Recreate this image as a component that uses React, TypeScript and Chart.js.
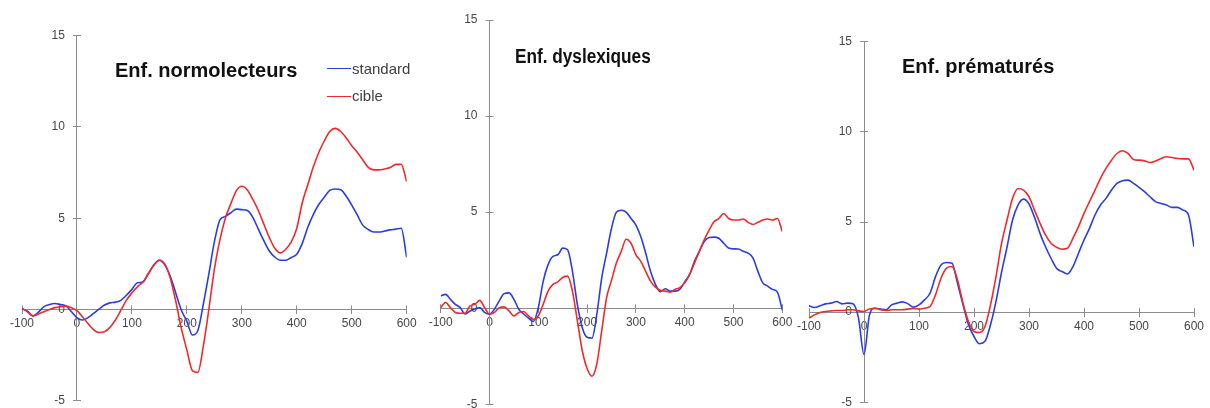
import React, { useEffect, useRef } from 'react';
import { Chart, registerables } from 'chart.js';

Chart.register(...registerables);

// Time axis (ms)
const TIMES = [
  -100, -90, -80, -70, -60, -50, -40, -30, -20, -10,
  0, 10, 20, 30, 40, 50, 60, 70, 80, 90,
  100, 110, 120, 130, 140, 150, 160, 170, 180, 190,
  200, 210, 220, 230, 240, 250, 260, 270, 280, 290,
  300, 310, 320, 330, 340, 350, 360, 370, 380, 390,
  400, 410, 420, 430, 440, 450, 460, 470, 480, 490,
  500, 510, 520, 530, 540, 550, 560, 570, 580, 590,
  600,
];

const X_TICKS = [-100, 0, 100, 200, 300, 400, 500, 600];
const Y_TICKS = [-5, 0, 5, 10, 15];

const SERIES_NAMES = ['standard', 'cible'];
const TITLES = ['Enf. normolecteurs', 'Enf. dyslexiques', 'Enf. prématurés'];

// Enf. normolecteurs
const NORMO_STANDARD = [
  0.05, -0.1, -0.35, -0.15, 0.15, 0.27, 0.33, 0.27, 0.2, -0.13,
  -0.45, -0.58, -0.45, -0.22, 0.02, 0.24, 0.36, 0.4, 0.5, 0.78,
  1.1, 1.46, 1.5, 1.97, 2.43, 2.7, 2.43, 1.8, 0.88, -0.04,
  -0.65, -1.4, -1.15, 0.3, 1.95, 3.7, 4.9, 5.1, 5.3, 5.5,
  5.47, 5.42, 5.05, 4.4, 3.77, 3.2, 2.87, 2.7, 2.7, 2.85,
  3.03, 3.62, 4.5, 5.2, 5.75, 6.15, 6.52, 6.6, 6.56, 6.2,
  5.72, 5.18, 4.62, 4.38, 4.24, 4.24, 4.3, 4.36, 4.4, 4.45,
  2.85,
];
const NORMO_CIBLE = [
  0.05, -0.13, -0.36, -0.25, -0.13, 0, 0.1, 0.15, 0.18, 0.09,
  -0.07, -0.4, -0.77, -1.1, -1.26, -1.22, -0.98, -0.58, -0.04, 0.51,
  0.91, 1.24, 1.5, 1.97, 2.43, 2.7, 2.48, 1.7, 0.42, -1.04,
  -2.23, -3.35, -3.45, -2.0, 0.0, 2.2, 3.8, 5.0, 5.8, 6.5,
  6.75, 6.55, 6.03, 5.42, 4.68, 3.95, 3.35, 3.1, 3.3, 3.7,
  4.45, 5.85, 6.83, 7.8, 8.6, 9.23, 9.75, 9.92, 9.75, 9.4,
  8.97, 8.62, 8.2, 7.78, 7.65, 7.65, 7.7, 7.78, 7.95, 7.95,
  7.0,
];

// Enf. dyslexiques
const DYS_STANDARD = [
  0.64, 0.72, 0.46, 0.2, 0.03, -0.3, -0.14, -0.05, 0.03, -0.22,
  -0.31, -0.05, 0.38, 0.76, 0.8, 0.46, -0.05, -0.3, -0.52, -0.69,
  0.03, 1.4, 2.27, 2.7, 2.78, 3.13, 3.04, 1.92, 0.2, -1.0,
  -1.51, -1.55, -0.3, 1.58, 2.87, 4.16, 5.0, 5.1, 5.0, 4.67,
  4.33, 3.73, 2.87, 1.92, 1.24, 0.86, 1.01, 0.89, 0.89, 0.98,
  1.37, 1.75, 2.44, 2.96, 3.47, 3.68, 3.7, 3.64, 3.38, 3.13,
  3.09, 3.08, 2.96, 2.87, 2.61, 1.92, 1.32, 1.15, 0.98, 0.84,
  -0.1,
];
const DYS_CIBLE = [
  0.03, 0.3, 0.03, -0.22, -0.26, -0.26, 0.12, 0.2, 0.41, 0.03,
  -0.31, -0.22, 0.03, 0.07, -0.14, -0.4, -0.22, -0.17, -0.4, -0.57,
  -0.4, 0.2, 0.89, 1.24, 1.37, 1.6, 1.67, 0.89, -0.65, -2.2,
  -3.14, -3.54, -2.89, -1.17, 0.55, 1.45, 2.35, 2.96, 3.59, 3.38,
  2.78, 2.44, 1.92, 1.41, 1.1, 0.93, 0.89, 0.84, 0.98, 1.07,
  1.32, 1.75, 2.35, 2.96, 3.56, 4.07, 4.5, 4.67, 4.93, 4.67,
  4.59, 4.59, 4.64, 4.47, 4.36, 4.47, 4.59, 4.64, 4.59, 4.67,
  3.99,
];

// Enf. prématurés
const PREMA_STANDARD = [
  0.35, 0.26, 0.35, 0.46, 0.5, 0.59, 0.46, 0.5, 0.46, -0.33,
  -2.35, -0.15, 0.22, 0.17, 0.13, 0.4, 0.5, 0.57, 0.46, 0.28,
  0.4, 0.68, 1.05, 1.97, 2.62, 2.75, 2.71, 1.6, 0.41, -0.7,
  -1.35, -1.75, -1.62, -0.7, 0.6, 2.2, 3.6, 5.1, 5.94, 6.27,
  6.0, 5.26, 4.37, 3.63, 2.99, 2.44, 2.25, 2.12, 2.53, 3.27,
  4.0, 4.65, 5.39, 5.94, 6.31, 6.77, 7.14, 7.29, 7.32, 7.14,
  6.92, 6.68, 6.4, 6.13, 6.03, 5.94, 5.81, 5.81, 5.66, 5.39,
  3.63,
];
const PREMA_CIBLE = [
  -0.33, -0.15, -0.02, 0.04, 0.07, 0.09, 0.09, 0.13, 0.13, 0.07,
  0.04, 0.17, 0.22, 0.13, 0.09, 0.13, 0.13, 0.13, 0.17, 0.2,
  0.17, 0.22, 0.31, 0.96, 1.88, 2.44, 2.53, 1.79, 0.5, -0.52,
  -1.07, -1.13, -0.8, 0.4, 1.97, 3.8, 5.1, 6.3, 6.86, 6.77,
  6.4, 5.66, 4.93, 4.28, 3.82, 3.6, 3.49, 3.54, 4.1, 4.74,
  5.48, 6.13, 6.77, 7.42, 7.97, 8.43, 8.8, 8.95, 8.8, 8.47,
  8.43, 8.39, 8.3, 8.39, 8.52, 8.62, 8.58, 8.52, 8.5, 8.5,
  7.88,
];

const BLUE = '#2a3ee0';
const RED = '#f02a2a';
const AXIS = '#8c8c8c';
const TICK_TEXT = '#474747';
const W = 1210;
const H = 408;

type Pad = { left: number; right: number; top: number; bottom: number };

// Puts the y axes on x = 0 and the helper x axis on y = 0, so the
// axis ticks cross the axis lines as in the original spreadsheet chart.
const crossAxesPlugin = {
  id: 'crossAxes',
  afterLayout(chart: any) {
    const { x, y, y2, x2 } = chart.scales;
    const px = x.getPixelForValue(0);
    const py = y.getPixelForValue(0);
    y.left = px - 70;
    y.right = px;
    y.width = 70;
    y2.left = px;
    y2.right = px + 20;
    y2.width = 20;
    x2.top = py - 20;
    x2.bottom = py;
    x2.height = 20;
  },
};

function Panel({ std, cib, pad }: { std: number[]; cib: number[]; pad: Pad }) {
  const ref = useRef<HTMLCanvasElement>(null);
  useEffect(() => {
    const tickFont = { family: "'Liberation Sans', Arial, sans-serif", size: 12 };
    const zeroW = (s: any) => {
      s.width = 0;
      s.paddingTop = 0;
      s.paddingBottom = 0;
    };
    const zeroH = (s: any) => {
      s.height = 0;
      s.paddingLeft = 0;
      s.paddingRight = 0;
    };
    const xTicks = (s: any) => {
      s.ticks = X_TICKS.map((v) => ({ value: v }));
    };
    const yTicks = (s: any) => {
      s.ticks = Y_TICKS.map((v) => ({ value: v }));
    };
    const grid = { drawOnChartArea: false, tickLength: 4, color: AXIS, lineWidth: 1 };
    const chart = new Chart(ref.current as HTMLCanvasElement, {
      type: 'line',
      data: {
        datasets: [
          {
            label: SERIES_NAMES[1],
            data: TIMES.map((t, i) => ({ x: t, y: cib[i] })),
            borderColor: RED,
            borderWidth: 1.6,
            pointRadius: 0,
            cubicInterpolationMode: 'monotone',
            fill: false,
          },
          {
            label: SERIES_NAMES[0],
            data: TIMES.map((t, i) => ({ x: t, y: std[i] })),
            borderColor: BLUE,
            borderWidth: 1.6,
            pointRadius: 0,
            cubicInterpolationMode: 'monotone',
            fill: false,
          },
        ],
      },
      options: {
        responsive: false,
        animation: false,
        devicePixelRatio: 1,
        events: [],
        layout: { padding: pad },
        plugins: {
          legend: { display: false },
          tooltip: { enabled: false },
          title: { display: false },
        },
        scales: {
          x: {
            type: 'linear',
            min: X_TICKS[0],
            max: X_TICKS[X_TICKS.length - 1],
            position: { y: 0 } as any,
            afterBuildTicks: xTicks,
            afterFit: zeroH,
            ticks: { font: tickFont, color: TICK_TEXT, padding: 3, maxRotation: 0, autoSkip: false },
            grid,
            border: { color: AXIS, width: 1 },
          },
          x2: {
            type: 'linear',
            axis: 'x',
            min: X_TICKS[0],
            max: X_TICKS[X_TICKS.length - 1],
            position: 'top',
            afterBuildTicks: xTicks,
            afterFit: zeroH,
            ticks: { display: false },
            grid,
            border: { display: false },
          },
          y: {
            type: 'linear',
            min: Y_TICKS[0],
            max: Y_TICKS[Y_TICKS.length - 1],
            position: 'left',
            afterBuildTicks: yTicks,
            afterFit: zeroW,
            ticks: { font: tickFont, color: TICK_TEXT, padding: 8, autoSkip: false },
            grid,
            border: { color: AXIS, width: 1 },
          },
          y2: {
            type: 'linear',
            axis: 'y',
            min: Y_TICKS[0],
            max: Y_TICKS[Y_TICKS.length - 1],
            position: 'right',
            afterBuildTicks: yTicks,
            afterFit: zeroW,
            ticks: { display: false },
            grid,
            border: { display: false },
          },
        },
      } as any,
      plugins: [crossAxesPlugin],
    });
    return () => chart.destroy();
  }, [std, cib, pad]);
  return (
    <canvas
      ref={ref}
      width={W}
      height={H}
      style={{ position: 'absolute', left: 0, top: 0, width: W, height: H }}
    />
  );
}

const PAD_1: Pad = { left: 22, right: W - 406.7, top: 35.7, bottom: H - 400.7 };
const PAD_2: Pad = { left: 440.7, right: W - 782.3, top: 20, bottom: H - 404.3 };
const PAD_3: Pad = { left: 809, right: W - 1194, top: 41.7, bottom: H - 402.3 };

const titleStyle: React.CSSProperties = {
  position: 'absolute',
  fontFamily: "'Liberation Sans', Arial, sans-serif",
  fontWeight: 'bold',
  fontSize: 20,
  lineHeight: '20px',
  color: '#111',
  whiteSpace: 'nowrap',
  transformOrigin: 'left top',
};

const legendText: React.CSSProperties = {
  position: 'absolute',
  fontFamily: "'Liberation Sans', Arial, sans-serif",
  fontSize: 15,
  lineHeight: '15px',
  color: '#404040',
  whiteSpace: 'nowrap',
};

export default function App() {
  return (
    <div style={{ position: 'absolute', left: 0, top: 0, width: W, height: H, background: '#fff', overflow: 'hidden' }}>
      <Panel std={NORMO_STANDARD} cib={NORMO_CIBLE} pad={PAD_1} />
      <Panel std={DYS_STANDARD} cib={DYS_CIBLE} pad={PAD_2} />
      <Panel std={PREMA_STANDARD} cib={PREMA_CIBLE} pad={PAD_3} />

      <div style={{ ...titleStyle, left: 115, top: 60.4 }}>{TITLES[0]}</div>
      <div style={{ ...titleStyle, left: 515, top: 46.4, transform: 'scaleX(0.86)' }}>{TITLES[1]}</div>
      <div style={{ ...titleStyle, left: 902, top: 55.8 }}>{TITLES[2]}</div>

      <div style={{ position: 'absolute', left: 327, top: 67.5, width: 24, height: 1.6, background: BLUE }} />
      <div style={{ ...legendText, left: 352, top: 60.6 }}>{SERIES_NAMES[0]}</div>
      <div style={{ position: 'absolute', left: 327, top: 95.9, width: 24, height: 1.6, background: RED }} />
      <div style={{ ...legendText, left: 352, top: 88.3 }}>{SERIES_NAMES[1]}</div>
    </div>
  );
}
